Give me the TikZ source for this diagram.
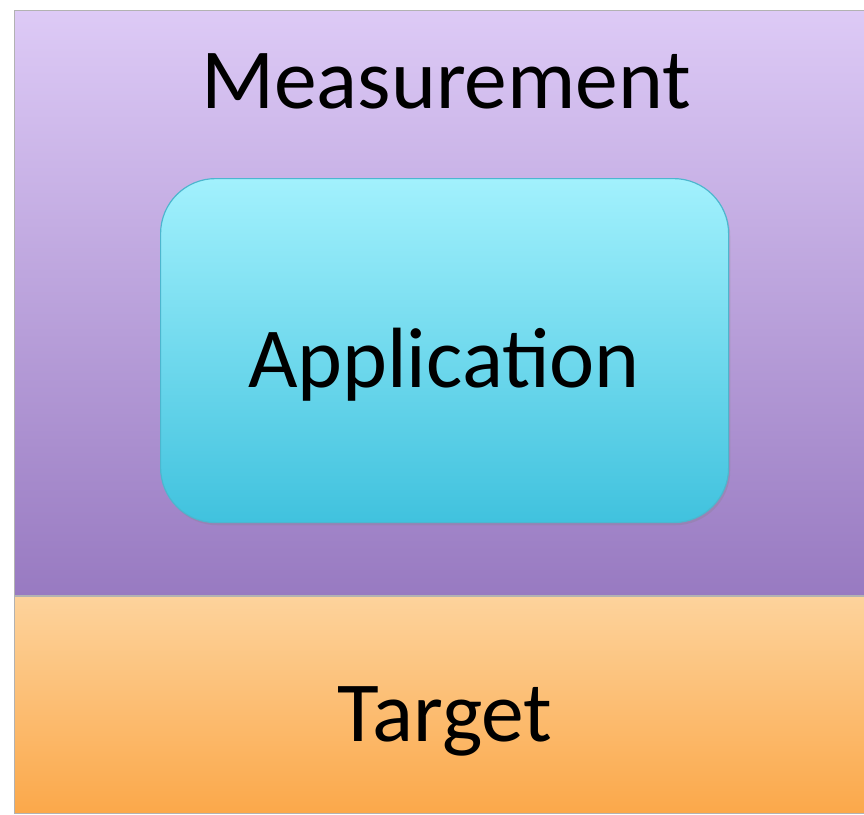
\documentclass[tikz,border=0pt]{standalone}
\usepackage{fontspec}
\setmainfont{Carlito}
\usetikzlibrary{shadows}

\definecolor{measTop}{HTML}{DDCAF6}
\definecolor{measBot}{HTML}{987AC1}
\definecolor{tgtTop}{HTML}{FDD39C}
\definecolor{tgtBot}{HTML}{FBA84A}
\definecolor{appTop}{HTML}{A2F1FD}
\definecolor{appBot}{HTML}{40C2DE}
\definecolor{appLine}{HTML}{4DB6CE}

\tikzset{
  layer/.style={draw=gray!60, line width=0.6pt, inner sep=0pt, anchor=north west},
  appbox/.style={draw=appLine, line width=1pt, rounded corners=1.65cm, inner sep=0pt,
    anchor=north west, top color=appTop, bottom color=appBot,
    drop shadow={shadow xshift=0.5mm, shadow yshift=-0.8mm, opacity=0.25}},
  lbl/.style={font=\fontsize{73}{76}\selectfont, anchor=base, inner sep=0pt}
}

\begin{document}
\begin{tikzpicture}[x=0.03cm,y=-0.03cm]
  \useasboundingbox (0,0) rectangle (864,815);
  \clip (0,0) rectangle (864,815);
  % layers
  \node[layer, top color=measTop, bottom color=measBot,
    minimum width=25.68cm, minimum height=17.55cm] (meas) at (14,10) {};
  \node[layer, top color=tgtTop, bottom color=tgtBot,
    minimum width=25.68cm, minimum height=6.51cm] (tgt) at (14,596) {};
  \node[appbox, minimum width=17.04cm, minimum height=10.32cm] (app) at (160,178) {};
  % labels
  \node[lbl] (measlbl) at (446,108) {Measurement};
  \node[lbl] (applbl) at (444,387) {Application};
  \node[lbl] (tgtlbl) at (445,741) {Target};
\end{tikzpicture}
\end{document}
